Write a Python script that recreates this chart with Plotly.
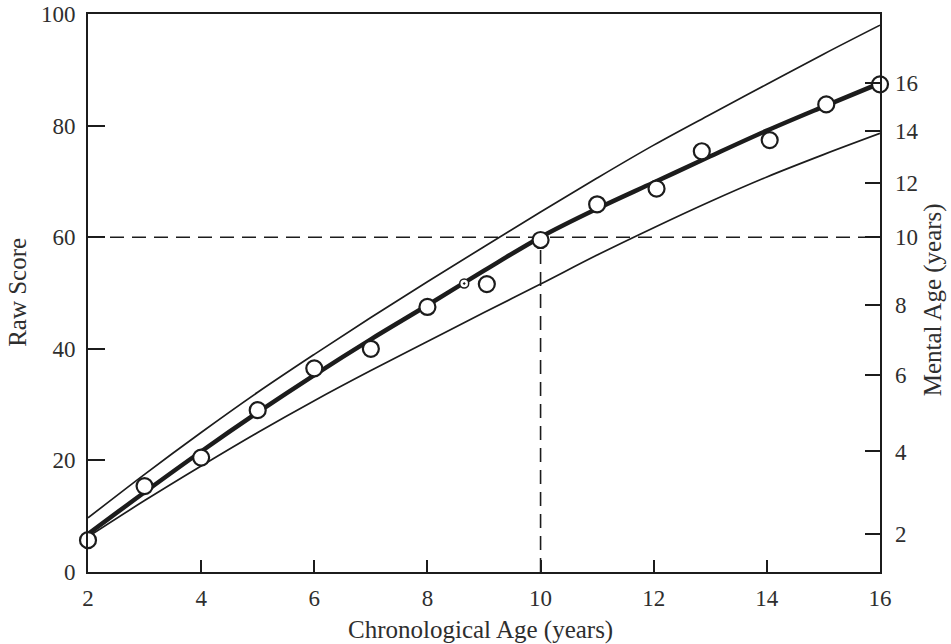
import plotly.graph_objects as go

# ---------------- data ----------------
ages = [2, 3, 4, 5, 6, 7, 8, 9, 10, 11, 12, 13, 14, 15, 16]
mean_score = [6.8, 14.3, 21.6, 28.6, 35.3, 41.7, 47.8, 54.0, 60.0, 65.1, 69.8, 74.5, 79.1, 83.4, 87.6]
upper_band = [9.7, 17.5, 25.0, 32.2, 39.0, 45.6, 52.0, 58.3, 64.5, 70.6, 76.5, 82.0, 87.4, 92.8, 98.0]
lower_band = [6.3, 12.8, 19.0, 25.0, 30.7, 36.1, 41.3, 46.5, 51.6, 56.8, 61.7, 66.4, 70.8, 74.8, 78.6]

obs_age = [2, 3, 4, 5, 6, 7, 8, 9.05, 10, 11, 12.05, 12.85, 14.05, 15.05, 16]
obs_score = [5.7, 15.4, 20.5, 29.0, 36.5, 40.0, 47.5, 51.6, 59.5, 65.9, 68.7, 75.4, 77.4, 83.8, 87.4]

small_age = [8.65]
small_score = [51.7]

ref_age = 10
ref_score = 60

x_ticks = [2, 4, 6, 8, 10, 12, 14, 16]
y_ticks = [0, 20, 40, 60, 80, 100]
mental_age_ticks = [2, 4, 6, 8, 10, 12, 14, 16]
mental_age_tickvals = [mean_score[ages.index(a)] for a in mental_age_ticks]

x_title = "Chronological Age (years)"
y_title = "Raw Score"
y2_title = "Mental Age (years)"

# ---------------- styling ----------------
INK = "#1c1c1c"
TXT = "#2e2e2e"
FONT = "Liberation Serif"
TICK_SIZE = 23
TITLE_SIZE = 25

fig = go.Figure()

# dashed reference lines
fig.add_trace(go.Scatter(x=[ages[0], ages[-1]], y=[ref_score, ref_score], mode="lines",
                         line=dict(color=INK, width=1.6, dash="14px,8px"),
                         hoverinfo="skip", cliponaxis=False))
fig.add_trace(go.Scatter(x=[ref_age, ref_age], y=[y_ticks[0], ref_score], mode="lines",
                         line=dict(color=INK, width=1.6, dash="14px,8px"),
                         hoverinfo="skip", cliponaxis=False))

# band lines
fig.add_trace(go.Scatter(x=ages, y=upper_band, mode="lines",
                         line=dict(color=INK, width=1.7, shape="spline"), cliponaxis=False))
fig.add_trace(go.Scatter(x=ages, y=lower_band, mode="lines",
                         line=dict(color=INK, width=1.7, shape="spline"), cliponaxis=False))

# mean curve (thick)
fig.add_trace(go.Scatter(x=ages, y=mean_score, mode="lines",
                         line=dict(color=INK, width=4.5, shape="spline"), cliponaxis=False))

# observed points
fig.add_trace(go.Scatter(x=obs_age, y=obs_score, mode="markers",
                         marker=dict(symbol="circle", size=16, color="white",
                                     line=dict(color=INK, width=2.2)),
                         cliponaxis=False))
fig.add_trace(go.Scatter(x=small_age, y=small_score, mode="markers",
                         marker=dict(symbol="circle-dot", size=9, color="white",
                                     line=dict(color=INK, width=1.5)),
                         cliponaxis=False))

# invisible trace to activate right axis
fig.add_trace(go.Scatter(x=[ages[0]], y=[y_ticks[0]], yaxis="y2", mode="markers",
                         marker=dict(size=0.1, opacity=0), hoverinfo="skip"))

title_font = dict(size=TITLE_SIZE, family=FONT, color=TXT)

fig.update_layout(
    width=951, height=644,
    margin=dict(l=88, r=71, t=14, b=72, autoexpand=False),
    paper_bgcolor="white", plot_bgcolor="white",
    showlegend=False,
    font=dict(family=FONT, color=TXT, size=TICK_SIZE),
    xaxis=dict(
        range=[2, 16], tickvals=x_ticks, ticktext=[str(t) for t in x_ticks],
        ticks="inside", ticklen=12, tickwidth=1.5, tickcolor=INK,
        showline=True, linecolor=INK, linewidth=2, mirror=True,
        showgrid=False, zeroline=False, automargin=False,
        ticklabelstandoff=4,
        tickfont=dict(size=TICK_SIZE, family=FONT, color=TXT),
    ),
    yaxis=dict(
        range=[0, 100], tickvals=y_ticks, ticktext=[str(t) for t in y_ticks],
        ticks="inside", ticklen=17, tickwidth=1.5, tickcolor=INK,
        showline=True, linecolor=INK, linewidth=2, mirror=True,
        showgrid=False, zeroline=False, automargin=False,
        ticklabelstandoff=6,
        tickfont=dict(size=TICK_SIZE, family=FONT, color=TXT),
    ),
    yaxis2=dict(
        range=[0, 100], overlaying="y", side="right",
        tickvals=mental_age_tickvals, ticktext=[str(t) for t in mental_age_ticks],
        ticks="inside", ticklen=15, tickwidth=1.5, tickcolor=INK,
        showline=False, showgrid=False, zeroline=False, automargin=False,
        ticklabelstandoff=14,
        tickfont=dict(size=TICK_SIZE, family=FONT, color=TXT),
    ),
    annotations=[
        dict(text=x_title, xref="paper", yref="paper", x=0.496, y=-0.104,
             xanchor="center", yanchor="middle", showarrow=False, font=title_font),
        dict(text=y_title, xref="paper", yref="paper", x=-0.0884, y=0.502,
             xanchor="center", yanchor="middle", textangle=-90, showarrow=False, font=title_font),
        dict(text=y2_title, xref="paper", yref="paper", x=1.067, y=0.487,
             xanchor="center", yanchor="middle", textangle=-90, showarrow=False, font=title_font),
    ],
)

fig.write_html("out.html", config={"displayModeBar": False},
               post_script="document.body.style.margin='0';")
